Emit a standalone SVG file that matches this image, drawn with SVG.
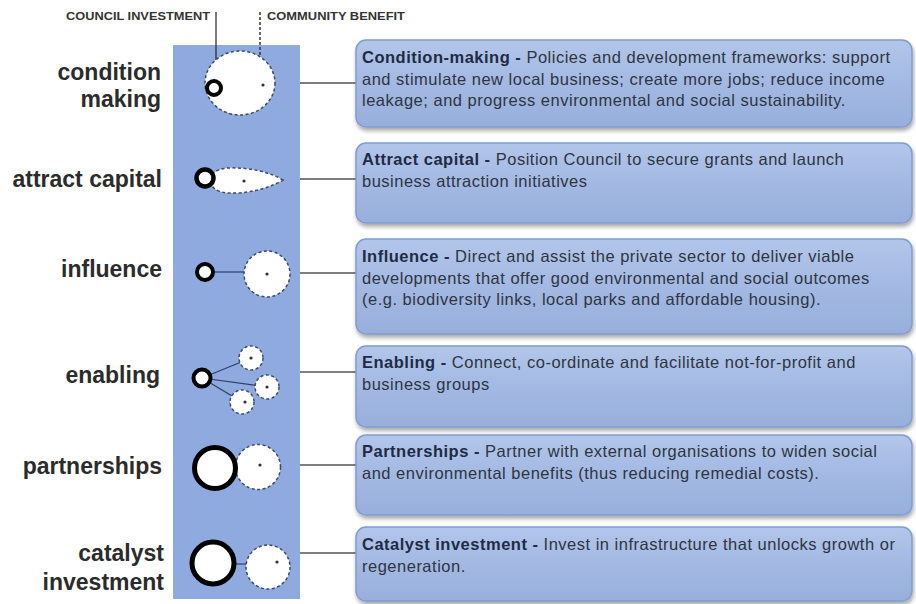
<svg xmlns="http://www.w3.org/2000/svg" width="916" height="604" viewBox="0 0 916 604">
  <defs>
    <linearGradient id="boxFill" x1="0" y1="0" x2="0" y2="1">
      <stop offset="0" stop-color="#b3c6ea"/>
      <stop offset="0.5" stop-color="#a3b9e3"/>
      <stop offset="1" stop-color="#98afdc"/>
    </linearGradient>
    <filter id="shadow" x="-5%" y="-10%" width="110%" height="130%">
      <feGaussianBlur in="SourceAlpha" stdDeviation="2"/>
      <feOffset dx="1" dy="3" result="b"/>
      <feComponentTransfer><feFuncA type="linear" slope="0.35"/></feComponentTransfer>
      <feMerge><feMergeNode/><feMergeNode in="SourceGraphic"/></feMerge>
    </filter>
    <style>
      .label { font-family: "Liberation Sans", Arial, sans-serif; font-weight: bold; font-size: 23px; fill: #2b2b2b; text-anchor: end; }
      .head { font-family: "Liberation Sans", Arial, sans-serif; font-weight: bold; font-size: 10.5px; fill: #333; }
      .box { fill: url(#boxFill); stroke: #7f9dd0; stroke-width: 1.5; filter: url(#shadow); }
      .desc { font-family: "Liberation Sans", Arial, sans-serif; font-size: 16.5px; letter-spacing: 0.5px; fill: #2e3540; }
      .desc .b { font-weight: bold; fill: #1f2b45; }
      .invest { fill: #fff; stroke: #000; }
      .benefit { fill: #fff; stroke: #3c4a66; stroke-width: 1.5; stroke-dasharray: 3 2.5; }
      .dot { fill: #333; }
      .tie { stroke: #2f3f66; stroke-width: 1.2; fill: none; }
      .conn { stroke: #555; stroke-width: 1.5; fill: none; }
    </style>
  </defs>

  <rect width="916" height="604" fill="#fff"/>

  <!-- legend -->
  <g id="legend">
    <text class="head" x="66" y="20" textLength="144" lengthAdjust="spacingAndGlyphs">COUNCIL INVESTMENT</text>
    <text class="head" x="267" y="20" textLength="138" lengthAdjust="spacingAndGlyphs">COMMUNITY BENEFIT</text>
  </g>

  <!-- strategy column -->
  <rect id="column" x="173" y="45" width="127" height="554" fill="#8eaadf"/>

  <!-- connectors -->
  <g id="connectors">
    <line class="conn" x1="300" y1="83" x2="356" y2="83"/>
    <line class="conn" x1="300" y1="179" x2="356" y2="179"/>
    <line class="conn" x1="300" y1="273" x2="356" y2="273"/>
    <line class="conn" x1="300" y1="372" x2="356" y2="372"/>
    <line class="conn" x1="300" y1="465" x2="356" y2="465"/>
    <line class="conn" x1="300" y1="553" x2="356" y2="553"/>
    <line x1="216" y1="12" x2="216" y2="80" stroke="#222" stroke-width="1.2"/>
    <line x1="260" y1="12" x2="260" y2="56" stroke="#333" stroke-width="1.5" stroke-dasharray="3 2"/>
  </g>

  <!-- condition making -->
  <g id="condition-making">
    <text class="label" x="161" y="80">condition</text>
    <text class="label" x="161" y="107">making</text>
    <ellipse class="benefit" cx="240" cy="83" rx="35" ry="32"/>
    <circle class="dot" cx="263" cy="85" r="1.6"/>
    <circle class="invest" cx="214" cy="88" r="7" stroke-width="4"/>
  </g>

  <!-- attract capital -->
  <g id="attract-capital">
    <text class="label" x="162" y="187">attract capital</text>
    <path class="benefit" d="M283,180 C270,172 248,167 228,168 C214,169 210,176 210,180 C210,185 214,192 228,193 C248,194 270,188 283,180 Z"/>
    <circle class="dot" cx="244" cy="181" r="1.6"/>
    <circle class="invest" cx="205" cy="178" r="8.5" stroke-width="4.5"/>
  </g>

  <!-- influence -->
  <g id="influence">
    <text class="label" x="162" y="277">influence</text>
    <line class="tie" x1="214" y1="272" x2="245" y2="272"/>
    <circle class="benefit" cx="267" cy="274" r="23"/>
    <circle class="dot" cx="267" cy="274" r="1.6"/>
    <circle class="invest" cx="205" cy="272" r="8" stroke-width="4"/>
  </g>

  <!-- enabling -->
  <g id="enabling">
    <text class="label" x="160" y="383">enabling</text>
    <line class="tie" x1="202" y1="378" x2="251" y2="358"/>
    <line class="tie" x1="202" y1="378" x2="267" y2="387"/>
    <line class="tie" x1="202" y1="378" x2="242" y2="402"/>
    <circle class="benefit" cx="251" cy="358" r="12"/>
    <circle class="benefit" cx="267" cy="387" r="12"/>
    <circle class="benefit" cx="242" cy="402" r="12"/>
    <circle class="dot" cx="251" cy="358" r="1.6"/>
    <circle class="dot" cx="267" cy="387" r="1.6"/>
    <circle class="dot" cx="245" cy="402" r="1.6"/>
    <circle class="invest" cx="202" cy="378" r="8.5" stroke-width="4"/>
  </g>

  <!-- partnerships -->
  <g id="partnerships">
    <text class="label" x="162" y="474">partnerships</text>
    <circle class="benefit" cx="258" cy="467" r="22.5"/>
    <circle class="dot" cx="260" cy="465" r="1.6"/>
    <circle class="invest" cx="215" cy="468" r="20.5" stroke-width="5"/>
  </g>

  <!-- catalyst investment -->
  <g id="catalyst-investment">
    <text class="label" x="164" y="561">catalyst</text>
    <text class="label" x="164" y="590">investment</text>
    <line class="tie" x1="236" y1="564" x2="247" y2="564"/>
    <circle class="benefit" cx="268" cy="567" r="22"/>
    <circle class="dot" cx="277" cy="562" r="1.6"/>
    <circle class="invest" cx="213" cy="563" r="21" stroke-width="5"/>
  </g>

  <!-- description boxes -->
  <g id="box-condition-making">
    <rect class="box" x="356" y="40" width="556" height="87" rx="10"/>
    <text class="desc" x="362" y="63"><tspan class="b">Condition-making - </tspan>Policies and development frameworks: support</text>
    <text class="desc" x="362" y="84.5">and stimulate new local business; create more jobs; reduce income</text>
    <text class="desc" x="362" y="106">leakage; and progress environmental and social sustainability.</text>
  </g>
  <g id="box-attract-capital">
    <rect class="box" x="356" y="143" width="556" height="80" rx="10"/>
    <text class="desc" x="362" y="165"><tspan class="b">Attract capital - </tspan>Position Council to secure grants and launch</text>
    <text class="desc" x="362" y="186.5">business attraction initiatives</text>
  </g>
  <g id="box-influence">
    <rect class="box" x="356" y="239" width="556" height="95" rx="10"/>
    <text class="desc" x="362" y="262"><tspan class="b">Influence - </tspan>Direct and assist the private sector to deliver viable</text>
    <text class="desc" x="362" y="283.5">developments that offer good environmental and social outcomes</text>
    <text class="desc" x="362" y="305">(e.g. biodiversity links, local parks and affordable housing).</text>
  </g>
  <g id="box-enabling">
    <rect class="box" x="356" y="346" width="556" height="81" rx="10"/>
    <text class="desc" x="362" y="368"><tspan class="b">Enabling - </tspan>Connect, co-ordinate and facilitate not-for-profit and</text>
    <text class="desc" x="362" y="389.5">business groups</text>
  </g>
  <g id="box-partnerships">
    <rect class="box" x="356" y="435" width="556" height="80" rx="10"/>
    <text class="desc" x="362" y="457"><tspan class="b">Partnerships - </tspan>Partner with external organisations to widen social</text>
    <text class="desc" x="362" y="478.5">and environmental benefits (thus reducing remedial costs).</text>
  </g>
  <g id="box-catalyst-investment">
    <rect class="box" x="356" y="527" width="556" height="74" rx="10"/>
    <text class="desc" x="362" y="550"><tspan class="b">Catalyst investment - </tspan>Invest in infrastructure that unlocks growth or</text>
    <text class="desc" x="362" y="571.5">regeneration.</text>
  </g>
</svg>
